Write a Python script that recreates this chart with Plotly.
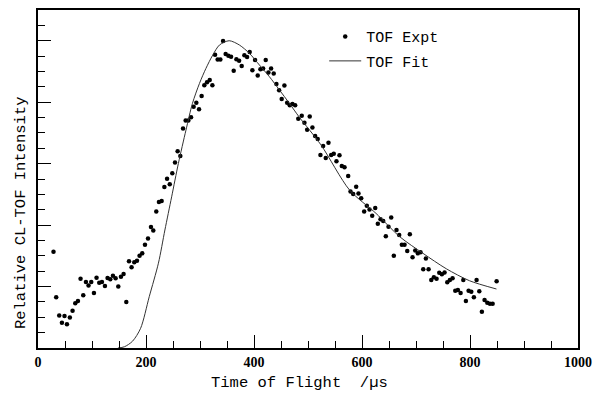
import plotly.graph_objects as go

# Experimental TOF data (time in µs, relative intensity)
expt_t = [28.7, 33.7, 39.3, 44.3, 49.1, 53.6, 59.0, 64.0, 69.0, 74.0, 78.8, 83.8, 88.8, 93.6, 98.6,
          103.6, 108.4, 113.4, 118.4, 124.0, 128.8, 133.8, 138.8, 143.7, 148.7, 153.6, 158.5, 163.5,
          168.5, 173.3, 178.3, 183.3, 188.1, 193.0, 198.1, 203.7, 209.2, 213.5, 219.0, 224.0, 229.0,
          234.0, 239.0, 244.0, 248.7, 253.7, 258.6, 263.6, 268.6, 273.4, 278.4, 283.4, 288.2, 293.2,
          298.2, 303.0, 308.0, 313.0, 318.0, 322.9, 327.9, 332.7, 337.7, 342.7, 347.5, 352.5, 357.5,
          362.4, 367.4, 372.4, 377.2, 382.2, 387.2, 392.0, 397.0, 402.0, 406.9, 411.9, 416.9, 421.7,
          426.7, 431.7, 436.5, 441.5, 446.5, 451.3, 456.3, 461.4, 466.2, 471.2, 476.2, 482.0, 488.4,
          493.4, 498.4, 503.2, 508.2, 513.2, 518.0, 523.0, 528.0, 532.9, 537.9, 542.9, 547.7, 552.7,
          558.3, 562.6, 567.6, 574.4, 578.7, 583.7, 589.2, 593.5, 598.5, 604.0, 608.9, 613.9, 618.9,
          624.5, 629.3, 634.3, 639.3, 644.1, 649.1, 654.1, 658.9, 663.9, 668.9, 673.8, 678.8, 683.8,
          688.6, 693.6, 698.6, 703.4, 708.4, 713.4, 718.3, 723.3, 728.3, 733.1, 738.1, 743.1, 747.9,
          752.9, 757.9, 762.7, 767.7, 772.7, 777.6, 782.6, 787.6, 792.4, 797.4, 802.4, 807.2, 812.2,
          817.2, 822.0, 827.0, 832.0, 836.9, 841.9, 849.3]
expt_v = [0.313, 0.165, 0.106, 0.082, 0.104, 0.077, 0.099, 0.121, 0.146, 0.153, 0.225, 0.172, 0.215, 0.203, 0.215,
          0.179, 0.229, 0.212, 0.215, 0.202, 0.228, 0.224, 0.235, 0.227, 0.200, 0.232, 0.241, 0.150,
          0.282, 0.263, 0.279, 0.284, 0.300, 0.308, 0.336, 0.356, 0.394, 0.382, 0.444, 0.475, 0.478,
          0.524, 0.551, 0.533, 0.569, 0.604, 0.640, 0.625, 0.714, 0.740, 0.740, 0.751, 0.785, 0.798,
          0.777, 0.820, 0.855, 0.865, 0.872, 0.855, 0.954, 0.939, 0.939, 0.999, 0.957, 0.951, 0.948,
          0.902, 0.940, 0.935, 0.918, 0.953, 0.947, 0.963, 0.904, 0.937, 0.887, 0.907, 0.910, 0.937,
          0.897, 0.910, 0.893, 0.859, 0.839, 0.810, 0.854, 0.798, 0.790, 0.794, 0.790, 0.746, 0.756,
          0.733, 0.710, 0.753, 0.718, 0.690, 0.680, 0.628, 0.657, 0.618, 0.668, 0.628, 0.632, 0.608,
          0.627, 0.592, 0.588, 0.560, 0.509, 0.501, 0.525, 0.503, 0.487, 0.444, 0.463, 0.451, 0.430,
          0.456, 0.404, 0.419, 0.413, 0.364, 0.395, 0.425, 0.300, 0.384, 0.368, 0.336, 0.336, 0.316,
          0.370, 0.295, 0.317, 0.308, 0.312, 0.256, 0.291, 0.256, 0.221, 0.230, 0.225, 0.245, 0.240,
          0.246, 0.214, 0.221, 0.227, 0.186, 0.189, 0.179, 0.221, 0.153, 0.186, 0.183, 0.165, 0.221,
          0.185, 0.118, 0.156, 0.147, 0.144, 0.144, 0.217]

# Fitted TOF curve
fit_t = [148, 160, 175, 190, 206, 223, 235, 247.5, 260, 274, 286, 299, 311, 323.5, 336, 354,
         373, 391.5, 410, 428.5, 447, 465.6, 484, 524, 577, 626, 670, 713, 756, 799, 849]
fit_v = [0.0, 0.004, 0.022, 0.064, 0.167, 0.276, 0.384, 0.492, 0.601, 0.709, 0.796, 0.861, 0.910,
         0.953, 0.986, 1.0, 0.986, 0.959, 0.921, 0.883, 0.840, 0.796, 0.751, 0.661, 0.514, 0.438,
         0.362, 0.308, 0.258, 0.219, 0.192]

x_tickvals = [0, 200, 400, 600, 800, 1000]
x_ticktext = ["0", "200", "400", "600", "800", "1000"]

mono = "Liberation Mono, Courier New, monospace"
serif = "Liberation Serif, Times New Roman, serif"

fig = go.Figure()
fig.add_trace(go.Scatter(x=expt_t, y=expt_v, mode="markers", name="TOF Expt", legendgroup="expt",
                         marker=dict(color="black", size=4.5, line=dict(width=0))))
fig.add_trace(go.Scatter(x=fit_t, y=fit_v, mode="lines", name="TOF Fit", legendgroup="fit",
                         line=dict(color="#333333", width=1, shape="spline", smoothing=0.8)))

fig.update_layout(
    width=594, height=394,
    margin=dict(l=38, r=16, t=10, b=46),
    paper_bgcolor="white", plot_bgcolor="white",
    showlegend=True,
    legend=dict(x=0.530, y=0.970, xanchor="left", yanchor="top",
                font=dict(family=mono, size=15, color="black"),
                bgcolor="rgba(0,0,0,0)", borderwidth=0, itemwidth=32,
                tracegroupgap=2),
    xaxis=dict(range=[0, 1000], showgrid=False, zeroline=False, automargin=False,
               showline=True, linecolor="black", linewidth=1.5, mirror=True,
               ticks="inside", ticklen=13, tickwidth=1.2, tickcolor="black",
               tickvals=x_tickvals, ticktext=x_ticktext,
               tickfont=dict(family=serif, size=14, color="black", weight="bold"),
               minor=dict(dtick=50, ticks="inside", ticklen=7, tickwidth=1.2, tickcolor="black", showgrid=False)),
    yaxis=dict(range=[0, 1.1], showgrid=False, zeroline=False, automargin=False,
               showline=True, linecolor="black", linewidth=1.5, mirror=True,
               ticks="inside", ticklen=13, tickwidth=1.2, tickcolor="black",
               dtick=0.2, tick0=0, showticklabels=False,
               minor=dict(dtick=0.05, ticks="inside", ticklen=7, tickwidth=1.2, tickcolor="black", showgrid=False)),
    annotations=[
        dict(text="Time of Flight  /µs", xref="paper", yref="paper", x=0.485, y=-0.105,
             xanchor="center", yanchor="middle", showarrow=False,
             font=dict(family=mono, size=15.5, color="black")),
        dict(text="Relative CL-TOF Intensity", xref="paper", yref="paper", x=-0.031, y=0.4,
             xanchor="center", yanchor="middle", showarrow=False, textangle=-90,
             font=dict(family=mono, size=15.5, color="black")),
    ],
)

fig.write_html("out.html")
